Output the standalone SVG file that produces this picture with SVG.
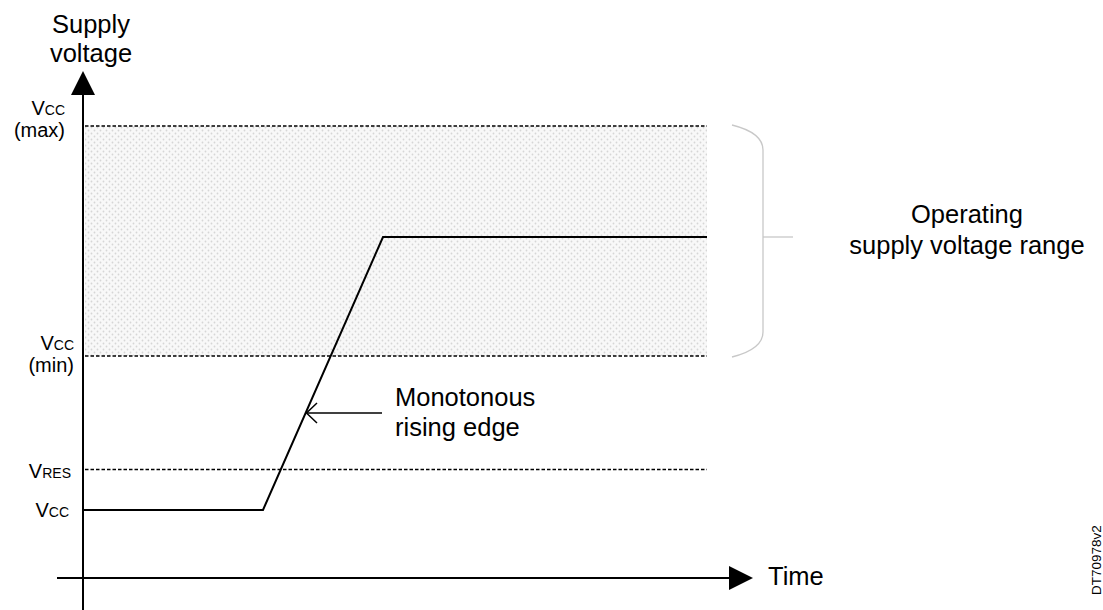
<svg xmlns="http://www.w3.org/2000/svg" width="1103" height="610" viewBox="0 0 1103 610">
<defs>
<pattern id="dots" x="0" y="0" width="6" height="6" patternUnits="userSpaceOnUse">
<rect width="6" height="6" fill="#f8f8f8"/>
<circle cx="1.5" cy="1.5" r="0.9" fill="#d6d6d6"/>
<circle cx="4.5" cy="4.5" r="0.9" fill="#d6d6d6"/>
</pattern>
</defs>
<style>
.t{font-family:"Liberation Sans",Arial,sans-serif;fill:#000}
.big{font-size:25.5px}
.lab{font-size:20px}
.sub{font-size:14px}
.dash{stroke:#000;stroke-width:1.5;stroke-dasharray:3.5 2;fill:none}
.ax{stroke:#000;stroke-width:2;fill:none}
.sig{stroke:#000;stroke-width:2;fill:none;stroke-linejoin:miter}
.brace{stroke:#c8c8c8;stroke-width:1.3;fill:none}
</style>
<g id="range-area">
<rect x="85" y="126" width="622" height="230" fill="url(#dots)"/>
</g>
<g id="connectors">
<line class="dash" x1="85" y1="126" x2="707" y2="126"/>
<line class="dash" x1="85" y1="356" x2="707" y2="356"/>
<line class="dash" x1="85" y1="469.5" x2="707" y2="469.5"/>
<line class="ax" x1="83" y1="93" x2="83" y2="610"/>
<polygon points="83,71 71,95 95,95" fill="#000"/>
<line class="ax" x1="57" y1="578" x2="731" y2="578"/>
<polygon points="753,578 729,566 729,590" fill="#000"/>
<polyline class="sig" points="83,510 263,510 383,237 707,237"/>
<path class="brace" d="M732,125 C752,130 763,138 763,150 L763,332 C763,344 752,352 732,357"/>
<line class="brace" x1="763" y1="237" x2="793" y2="237"/>
<line stroke="#000" stroke-width="1.5" x1="382" y1="413" x2="307" y2="413"/>
<polyline stroke="#000" stroke-width="1.5" fill="none" points="317,403 306.5,413 317,423"/>
</g>
<g id="axis-y-label">
<text class="t big" x="91" y="33" text-anchor="middle">Supply</text>
<text class="t big" x="91" y="62" text-anchor="middle">voltage</text>
</g>
<g id="axis-x-label">
<text class="t big" x="768" y="585">Time</text>
</g>
<g id="vcc-max">
<text class="t lab" x="65" y="115" text-anchor="end">V<tspan class="sub">CC</tspan></text>
<text class="t lab" x="65" y="137" text-anchor="end">(max)</text>
</g>
<g id="vcc-min">
<text class="t lab" x="74" y="350" text-anchor="end">V<tspan class="sub">CC</tspan></text>
<text class="t lab" x="74" y="372" text-anchor="end">(min)</text>
</g>
<g id="vres">
<text class="t lab" x="71" y="478" text-anchor="end">V<tspan class="sub">RES</tspan></text>
</g>
<g id="vcc">
<text class="t lab" x="69" y="517" text-anchor="end">V<tspan class="sub">CC</tspan></text>
</g>
<g id="rising-edge-label">
<text class="t big" x="395" y="406">Monotonous</text>
<text class="t big" x="395" y="436">rising edge</text>
</g>
<g id="range-label">
<text class="t big" x="967" y="223" text-anchor="middle">Operating</text>
<text class="t big" x="967" y="254" text-anchor="middle">supply voltage range</text>
</g>
<g id="doc-id">
<text class="t" font-size="13.5" transform="translate(1101,595) rotate(-90)">DT70978v2</text>
</g>
</svg>
